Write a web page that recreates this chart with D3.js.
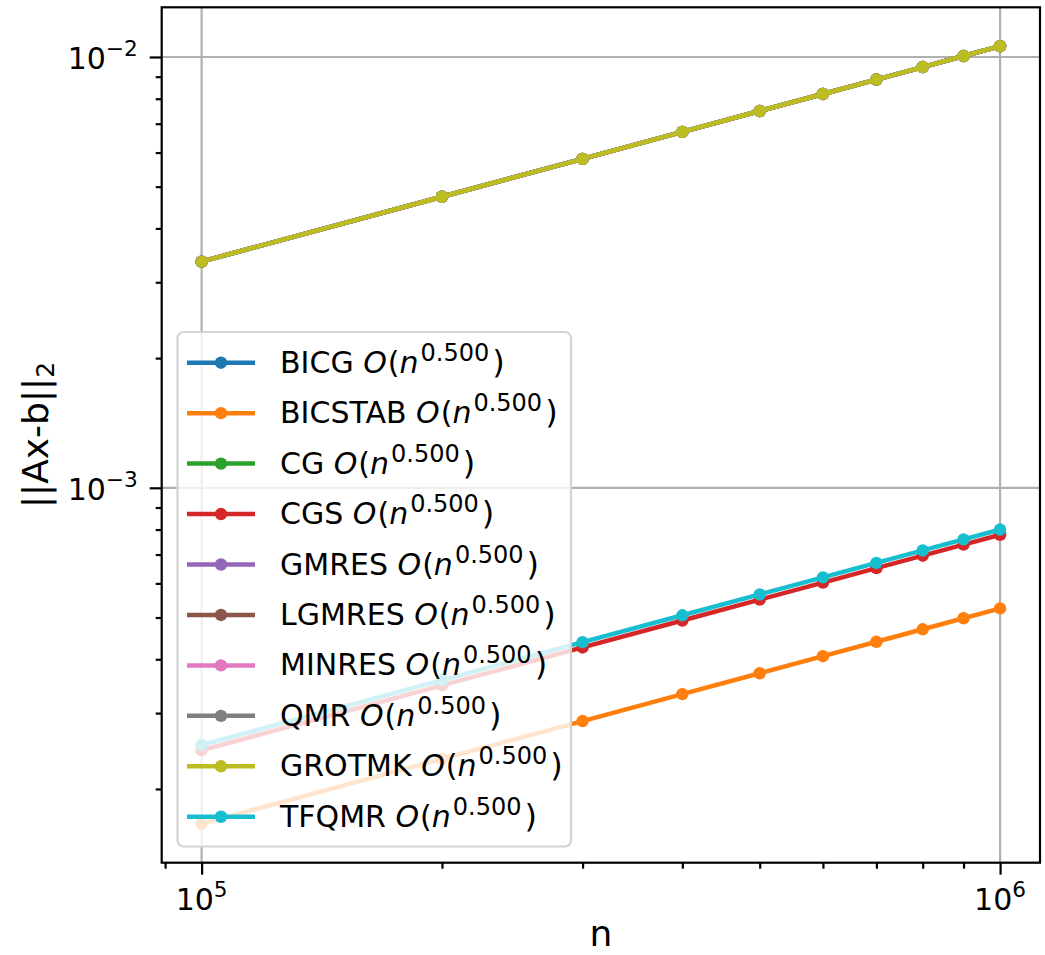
<!DOCTYPE html>
<html>
<head>
<meta charset="utf-8">
<script src="https://cdn.jsdelivr.net/npm/d3@7"></script>
<style>
  html, body { margin: 0; padding: 0; background: #fff; }
  svg { display: block; }
  text { font-family: "DejaVu Sans", sans-serif; }
</style>
</head>
<body>
<svg id="chart" width="1045" height="955"></svg>
<script>
// ---- data ----
const nValues = [1e5, 2e5, 3e5, 4e5, 5e5, 6e5, 7e5, 8e5, 9e5, 1e6];
const solverNames = ["BICG", "BICSTAB", "CG", "CGS", "GMRES", "LGMRES", "MINRES", "QMR", "GROTMK", "TFQMR"];
const exponentLabel = "0.500";
const topLine   = [3.350e-3, 4.738e-3, 5.802e-3, 6.700e-3, 7.491e-3, 8.206e-3, 8.863e-3, 9.475e-3, 1.005e-2, 1.0594e-2];
const bicstab   = [1.660e-4, 2.348e-4, 2.875e-4, 3.320e-4, 3.712e-4, 4.066e-4, 4.392e-4, 4.695e-4, 4.980e-4, 5.249e-4];
const cgs       = [2.460e-4, 3.479e-4, 4.261e-4, 4.920e-4, 5.501e-4, 6.026e-4, 6.509e-4, 6.958e-4, 7.380e-4, 7.779e-4];
const tfqmr     = [2.530e-4, 3.578e-4, 4.382e-4, 5.060e-4, 5.657e-4, 6.197e-4, 6.694e-4, 7.156e-4, 7.590e-4, 8.000e-4];
const bicg   = topLine, cg = topLine, gmres = topLine, lgmres = topLine,
      minres = topLine, qmr = topLine, grotmk = topLine;
const seriesValues = [bicg, bicstab, cg, cgs, gmres, lgmres, minres, qmr, grotmk, tfqmr];
const colors = ["#1f77b4", "#ff7f0e", "#2ca02c", "#d62728", "#9467bd", "#8c564b", "#e377c2", "#7f7f7f", "#bcbd22", "#17becf"];
const xMajorTicks = [1e5, 1e6];
const xTickExp = ["5", "6"];
const yMajorTicks = [1e-3, 1e-2];
const yTickExp = ["\u22123", "\u22122"];

// ---- layout ----
const W = 1045, H = 955;
const margin = { left: 161.7, top: 7.3, right: 5, bottom: 92.3 };
const x0 = margin.left, x1 = W - margin.right, y0 = margin.top, y1 = H - margin.bottom;

const svg = d3.select("#chart");

// log domain with 5% padding like matplotlib
function padLog(ext) {
  const a = Math.log10(ext[0]), b = Math.log10(ext[1]), p = (b - a) * 0.05;
  return [Math.pow(10, a - p), Math.pow(10, b + p)];
}
const xDom = padLog(d3.extent(nValues));
const yDom = padLog([d3.min(seriesValues, s => d3.min(s)), d3.max(seriesValues, s => d3.max(s))]);
const x = d3.scaleLog().domain(xDom).range([x0, x1]);
const y = d3.scaleLog().domain(yDom).range([y1, y0]);

// minor ticks
function minorTicks(dom) {
  const out = [];
  const lo = Math.floor(Math.log10(dom[0])), hi = Math.ceil(Math.log10(dom[1]));
  for (let e = lo; e <= hi; e++) for (let m = 2; m <= 9; m++) {
    const v = m * Math.pow(10, e);
    if (v >= dom[0] && v <= dom[1]) out.push(v);
  }
  return out;
}

// grid
const grid = svg.append("g");
grid.selectAll("line.gx").data(xMajorTicks).join("line")
  .attr("x1", d => x(d)).attr("x2", d => x(d)).attr("y1", y0).attr("y2", y1)
  .attr("stroke", "#b0b0b0").attr("stroke-width", 2.2);
grid.selectAll("line.gy").data(yMajorTicks).join("line")
  .attr("y1", d => y(d)).attr("y2", d => y(d)).attr("x1", x0).attr("x2", x1)
  .attr("stroke", "#b0b0b0").attr("stroke-width", 2.2);

// series
const line = d3.line().x(d => x(d[0])).y(d => y(d[1]));
const plot = svg.append("g");
seriesValues.forEach((vals, i) => {
  const pts = nValues.map((n, j) => [n, vals[j]]);
  const g = plot.append("g");
  g.append("path").attr("d", line(pts)).attr("fill", "none")
    .attr("stroke", colors[i]).attr("stroke-width", 4.5).attr("stroke-linejoin", "round").attr("stroke-linecap", "square");
  g.selectAll("circle").data(pts).join("circle")
    .attr("cx", d => x(d[0])).attr("cy", d => y(d[1])).attr("r", 6.2).attr("fill", colors[i]);
});

// axes with d3
const xAxisMajor = d3.axisBottom(x).tickValues(xMajorTicks).tickSize(12).tickFormat("");
const xAxisMinor = d3.axisBottom(x).tickValues(minorTicks(xDom)).tickSize(6).tickFormat("");
const yAxisMajor = d3.axisLeft(y).tickValues(yMajorTicks).tickSize(12).tickFormat("");
const yAxisMinor = d3.axisLeft(y).tickValues(minorTicks(yDom)).tickSize(6).tickFormat("");
function styleAxis(g) {
  g.select(".domain").remove();
  g.selectAll(".tick line").attr("stroke", "#000").attr("stroke-width", 2.2);
}
svg.append("g").attr("transform", `translate(0,${y1})`).call(xAxisMajor).call(styleAxis);
svg.append("g").attr("transform", `translate(0,${y1})`).call(xAxisMinor).call(styleAxis);
svg.append("g").attr("transform", `translate(${x0},0)`).call(yAxisMajor).call(styleAxis);
svg.append("g").attr("transform", `translate(${x0},0)`).call(yAxisMinor).call(styleAxis);

// spines
svg.append("rect").attr("x", x0).attr("y", y0).attr("width", x1 - x0).attr("height", y1 - y0)
  .attr("fill", "none").attr("stroke", "#000").attr("stroke-width", 2.2);

// tick labels
const fs = 30;
xMajorTicks.forEach((v, i) => {
  const t = svg.append("text").attr("x", x(v)).attr("y", y1 + 47).attr("text-anchor", "middle")
    .attr("font-size", fs).attr("fill", "#000");
  t.append("tspan").text("10");
  t.append("tspan").attr("font-size", fs * 0.72).attr("dy", -13).text(xTickExp[i]);
});
yMajorTicks.forEach((v, i) => {
  const t = svg.append("text").attr("x", x0 - 24).attr("y", y(v) + 12).attr("text-anchor", "end")
    .attr("font-size", fs).attr("fill", "#000");
  t.append("tspan").text("10");
  t.append("tspan").attr("font-size", fs * 0.72).attr("dy", -13).text(yTickExp[i]);
});

// axis labels
svg.append("text").attr("x", (x0 + x1) / 2).attr("y", 946).attr("text-anchor", "middle")
  .attr("font-size", 36).text("n");
const yl = svg.append("text").attr("transform", `translate(48,${(y0 + y1) / 2}) rotate(-90)`)
  .attr("text-anchor", "middle").attr("font-size", 36);
yl.append("tspan").text("||Ax-b||");
yl.append("tspan").attr("font-size", 25).attr("dy", 6).text("2");

// legend
const lg = svg.append("g");
lg.append("rect").attr("x", 177.5).attr("y", 332).attr("width", 393.5).attr("height", 514.5)
  .attr("rx", 6).attr("ry", 6)
  .attr("fill", "#fff").attr("fill-opacity", 0.8).attr("stroke", "#d3d3d3").attr("stroke-width", 2.2);
const rowY0 = 362.7, rowStep = 50.45;
solverNames.forEach((name, i) => {
  const ry = rowY0 + i * rowStep;
  lg.append("line").attr("x1", 187).attr("x2", 255).attr("y1", ry).attr("y2", ry)
    .attr("stroke", colors[i]).attr("stroke-width", 4.5);
  lg.append("circle").attr("cx", 221).attr("cy", ry).attr("r", 6.2).attr("fill", colors[i]);
  const t = lg.append("text").attr("x", 280).attr("y", ry + 10).attr("font-size", fs).attr("fill", "#000");
  t.append("tspan").text(name + " ");
  t.append("tspan").attr("font-style", "italic").text("O");
  t.append("tspan").attr("dx", 1).text("(");
  t.append("tspan").attr("font-style", "italic").text("n");
  t.append("tspan").attr("font-size", fs * 0.8).attr("dx", 2).attr("dy", -12).text(exponentLabel);
  t.append("tspan").attr("dx", 3).attr("dy", 12).attr("font-size", 32).text(")");
});
</script>
</body>
</html>
